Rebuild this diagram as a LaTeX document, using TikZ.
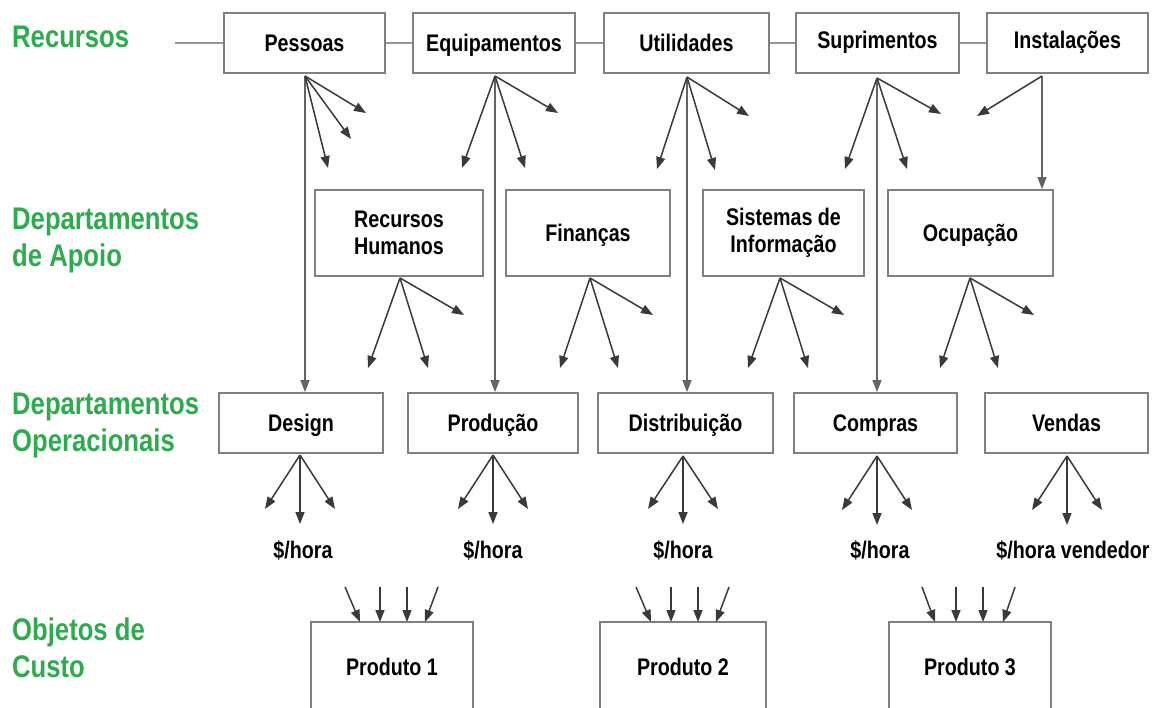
\documentclass[tikz,border=0pt]{standalone}
\usepackage{fontspec}
\setmainfont{Liberation Sans}[FakeStretch=0.82]
\usetikzlibrary{arrows.meta}
\definecolor{grn}{RGB}{44,172,76}
\definecolor{boxline}{RGB}{128,128,128}
\definecolor{arr}{RGB}{58,58,58}
\definecolor{vline}{RGB}{100,100,100}
\definecolor{hline}{RGB}{150,150,150}
\begin{document}
\begin{tikzpicture}[x=1pt,y=-1pt,
  box/.style={draw=boxline, line width=1.8pt, fill=white, minimum height=60pt, inner sep=0pt,
    font=\fontsize{24}{27}\selectfont\bfseries, align=center},
  one/.style={text height=19pt, text depth=3pt},
  hi/.style={text height=17pt, text depth=7pt},
  grp/.style={anchor=west, inner sep=0pt, text=grn, align=left,
    font=\fontsize{31.3}{37}\selectfont\bfseries},
  lbl/.style={inner sep=0pt, font=\fontsize{24}{27}\selectfont\bfseries},
  fan/.style={draw=arr, line width=1.5pt, -{Triangle[length=12pt,width=9pt]}},
  longarr/.style={draw=vline, line width=1.2pt, -{Triangle[length=12pt,width=9pt]}},
  hl/.style={draw=hline, line width=2.2pt}]
\useasboundingbox (0,0) rectangle (1159,707);
\fill[white] (0,0) rectangle (1159,707);
\clip (0,0) rectangle (1159,707);

% group labels
\node[grp] (gRec) at (12,37) {Recursos};
\node[grp] (gApo) at (12,240.5) {Departamentos\\de Apoio};
\node[grp] (gOpe) at (12,425) {Departamentos\\Operacionais};
\node[grp] (gObj) at (12,647.5) {Objetos de\\Custo};

% resources
\node[box, one, minimum width=161pt] (pess) at (304.5,43) {Pessoas};
\node[box, one, minimum width=162pt] (equip) at (494,43) {Equipamentos};
\node[box, one, minimum width=165pt] (util) at (686.5,43) {Utilidades};
\node[box, hi, minimum width=163pt] (supr) at (877.5,43) {Suprimentos};
\node[box, hi, minimum width=161pt] (inst) at (1067.5,43) {Instalações};

\coordinate (lstart) at (175,43);
\draw[hl] (lstart) -- (pess.west);
\draw[hl] (pess.east) -- (equip.west);
\draw[hl] (equip.east) -- (util.west);
\draw[hl] (util.east) -- (supr.west);
\draw[hl] (supr.east) -- (inst.west);

% support departments
\node[box, minimum width=168pt, minimum height=86pt] (rh) at (399,233) {Recursos\\Humanos};
\node[box, one, minimum width=164pt, minimum height=86pt] (fin) at (588,233) {Finanças};
\node[box, minimum width=161pt, minimum height=86pt] (si) at (783.5,233) {Sistemas de\\Informação};
\node[box, one, minimum width=165pt, minimum height=86pt] (ocup) at (970.5,233) {Ocupação};

% operational departments
\node[box, one, minimum width=164pt] (des) at (301,423) {Design};
\node[box, one, minimum width=170pt] (prod) at (493,423) {Produção};
\node[box, one, minimum width=175pt] (dist) at (685.5,423) {Distribuição};
\node[box, one, minimum width=163pt] (comp) at (875.5,423) {Compras};
\node[box, one, minimum width=163pt] (vend) at (1066.5,423) {Vendas};

% cost objects
\node[box, one, minimum width=162pt, minimum height=90pt] (p1) at (392,667) {Produto 1};
\node[box, one, minimum width=166pt, minimum height=90pt] (p2) at (683,667) {Produto 2};
\node[box, one, minimum width=162pt, minimum height=90pt] (p3) at (970,667) {Produto 3};

% rate labels
\node[lbl, one] (r1) at (303,550) {\$/hora};
\node[lbl, one] (r2) at (493,550) {\$/hora};
\node[lbl, one] (r3) at (683,550) {\$/hora};
\node[lbl, one] (r4) at (880,550) {\$/hora};
\node[lbl, one] (r5) at (1073,550) {\$/hora vendedor};

% fan origins
\coordinate (pessO) at (305,76);
\coordinate (equipO) at (495,76);
\coordinate (utilO) at (687,77);
\coordinate (suprO) at (877,78);
\coordinate (instO) at (1042,76);
\coordinate (rhO) at (400,278);
\coordinate (finO) at (590,278);
\coordinate (siO) at (780,278);
\coordinate (ocupO) at (970,278);
\coordinate (desO) at (300,455);
\coordinate (prodO) at (493,455);
\coordinate (distO) at (683,456);
\coordinate (compO) at (877,456);
\coordinate (vendO) at (1067,456);

% long vertical arrows
\draw[longarr] (pessO) -- (pessO |- des.north);
\draw[longarr] (equipO) -- (equipO |- prod.north);
\draw[longarr] (utilO) -- (utilO |- dist.north);
\draw[longarr] (suprO) -- (suprO |- comp.north);
\draw[longarr] (instO) -- (instO |- ocup.north);

% fans
\foreach \o/\tx/\ty [count=\k] in {
  pessO/366/113, pessO/351/139, pessO/328/168,
  equipO/462/168, equipO/525/168, equipO/558/113,
  utilO/657/169, utilO/715/170, utilO/749/116,
  suprO/845/169, suprO/907/169, suprO/941/114,
  instO/977/116,
  rhO/368/368, rhO/428/368, rhO/464/315,
  finO/560/368, finO/618/368, finO/653/315,
  siO/748/368, siO/808/368, siO/844/315,
  ocupO/940/368, ocupO/998/368, ocupO/1034/315,
  desO/265/509, desO/300/524, desO/335/509,
  prodO/458/509, prodO/493/524, prodO/528/509,
  distO/648/509, distO/683/524, distO/718/509,
  compO/842/510, compO/877/525, compO/912/510,
  vendO/1032/510, vendO/1067/525, vendO/1102/510}{
  \coordinate (tip\k) at (\tx,\ty);
  \draw[fan] (\o) -- (tip\k);
}

% arrows into products
\foreach \p/\sx/\ex [count=\k] in {
  p1/345/360, p1/380/380, p1/407/407, p1/438/425,
  p2/636/651, p2/671/671, p2/698/698, p2/729/716,
  p3/922/935, p3/956/956, p3/983/983, p3/1015/1003}{
  \coordinate (src\k) at (\sx,587);
  \coordinate (dst\k) at (\ex,622);
  \draw[fan] (src\k) -- (dst\k);
}
\end{tikzpicture}
\end{document}
